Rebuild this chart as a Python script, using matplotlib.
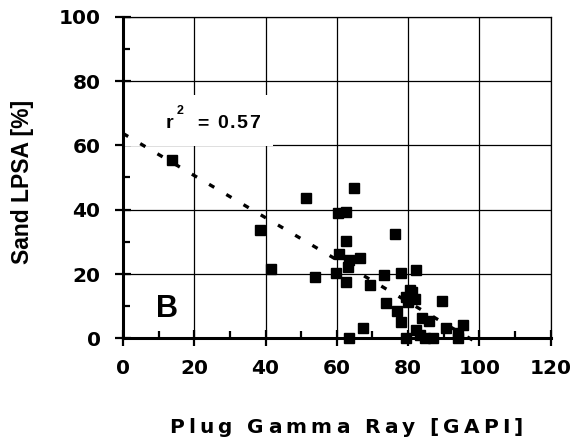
import matplotlib
matplotlib.use("Agg")
import matplotlib.pyplot as plt
from matplotlib.font_manager import FontProperties
from matplotlib.patches import Rectangle

# ---------------- data ----------------
gamma_ray = [13.8, 38.4, 41.5, 51.3, 54.0, 59.7, 60.2, 60.7, 62.7, 62.7, 62.7, 63.2,
             63.4, 63.5, 64.9, 66.6, 67.2, 69.3, 73.1, 73.9, 76.2, 76.9, 77.9, 78.0,
             79.4, 79.4, 80.0, 80.6, 81.2, 81.9, 82.2, 82.2, 83.3, 83.8, 84.7, 85.9,
             87.0, 89.5, 90.5, 93.9, 93.9, 95.3]
sand_lpsa = [55.4, 33.7, 21.7, 43.5, 19.2, 20.2, 39.1, 26.2, 39.4, 30.3, 17.6, 22.3,
             24.3, 0.0, 46.8, 24.9, 3.1, 16.6, 19.6, 11.1, 32.3, 8.5, 5.2, 20.2,
             12.9, 0.0, 11.4, 15.0, 14.5, 12.1, 21.2, 2.6, 1.0, 6.2, 0.0, 5.5,
             0.0, 11.6, 3.1, 1.6, 0.0, 4.1]
fit_intercept = 63.7
fit_slope = -0.655
fit_x = [0.0, 99.7]
x_ticks = [0, 20, 40, 60, 80, 100, 120]
y_ticks = [0, 20, 40, 60, 80, 100]
x_minor = [10, 30, 50, 70, 90, 110]
y_minor = [10, 30, 50, 70, 90]
x_label = "Plug Gamma Ray [GAPI]"
y_label = "Sand LPSA [%]"
r2_value = "= 0.57"
panel_label = "B"

# ---------------- figure ----------------
W, H = 578, 444
fig = plt.figure(figsize=(W / 100, H / 100), dpi=100)
ax = fig.add_axes([123 / W, 1 - 338.3 / H, 427.7 / W, 321.6 / H])
ax.set_xlim(0, 120)
ax.set_ylim(0, 100)
ax.set_axisbelow(True)

ax.set_xticks(x_ticks)
ax.set_yticks(y_ticks)
ax.set_xticks(x_minor, minor=True)
ax.set_yticks(y_minor, minor=True)
ax.set_xticklabels([])
ax.set_yticklabels([])
ax.tick_params(which="major", direction="inout", length=11, width=1.6, color="black")
ax.tick_params(which="minor", direction="in", length=5, width=1.6, color="black")
ax.tick_params(top=False, right=False)
ax.grid(True, which="major", color="black", linewidth=0.9)
for s in ("left", "bottom"):
    ax.spines[s].set_linewidth(2.2)
for s in ("top", "right"):
    ax.spines[s].set_linewidth(0.9)

# white box behind r^2 label
ax.add_patch(Rectangle((0, 59.7), 42, 15.9, facecolor="white", edgecolor="none", zorder=1))

# regression line
fx = fit_x
fy = [fit_intercept + fit_slope * v for v in fx]
ax.plot(fx, fy, color="black", linewidth=2.4, dashes=(1.8, 4.2), zorder=2, clip_on=False)

# data points
ax.plot(gamma_ray, sand_lpsa, "s", color="black", markersize=7.5, zorder=3, clip_on=False)

# ---------------- text helpers ----------------
LIB = "Liberation Sans"
DJV = "DejaVu Sans"
renderer = fig.canvas.get_renderer()


def text_w(s, fp):
    if not s:
        return 0.0
    w, h, d = renderer.get_text_width_height_descent(s, fp, ismath=False)
    return w


def tracked(xpx, ybase, s, size, track=0.0, ha="center", width=None, family=LIB):
    fp = FontProperties(family=family, weight="bold", size=size)
    bar = text_w("|", fp)
    offs = [0.0] + [text_w(s[:i] + "|", fp) - bar for i in range(1, len(s))]
    base_w = text_w(s, fp)
    if width is not None and len(s) > 1:
        track = (width - base_w) / (len(s) - 1)
    total = base_w + track * (len(s) - 1)
    if ha == "center":
        x0 = xpx - total / 2
    elif ha == "right":
        x0 = xpx - total
    else:
        x0 = xpx
    for i, c in enumerate(s):
        if c == " ":
            continue
        fig.text((x0 + offs[i] + i * track) / W, (H - ybase) / H, c,
                 fontproperties=fp, ha="left", va="baseline")


def data_to_px(x, y):
    px, py = ax.transData.transform((x, y))
    return px, H - py


fp_tick = FontProperties(family=DJV, weight="bold", size=14.5)
# tick labels
for t in x_ticks:
    px, _ = data_to_px(t, 0)
    fig.text(px / W, (H - 373.5) / H, str(t), fontproperties=fp_tick,
             ha="center", va="baseline")
for t in y_ticks:
    _, py = data_to_px(0, t)
    fig.text(100.5 / W, (H - py - 7.6) / H, str(t), fontproperties=fp_tick,
             ha="right", va="baseline")

# axis labels
tracked(346, 432.5, x_label, 14.5, ha="center", width=354, family=DJV)
fig.text(23 / W, 1 - 182 / H, y_label, rotation=90, ha="center", va="center",
         fontproperties=FontProperties(family=LIB, weight="bold", size=16.5))

# r^2 annotation
fp_r = FontProperties(family=LIB, weight="bold", size=14)
fig.text(166 / W, (H - 128.3) / H, "r", fontproperties=fp_r, ha="left", va="baseline")
fig.text(176.5 / W, (H - 113.5) / H, "2",
         fontproperties=FontProperties(family=LIB, weight="bold", size=9),
         ha="left", va="baseline")
tracked(197, 128.3, r2_value, 14, ha="left", width=63)

# panel label
fig.text(156 / W, (H - 317) / H, panel_label,
         fontproperties=FontProperties(family=LIB, weight="bold", size=22),
         ha="left", va="baseline")

fig.savefig("out.png", dpi=100)
